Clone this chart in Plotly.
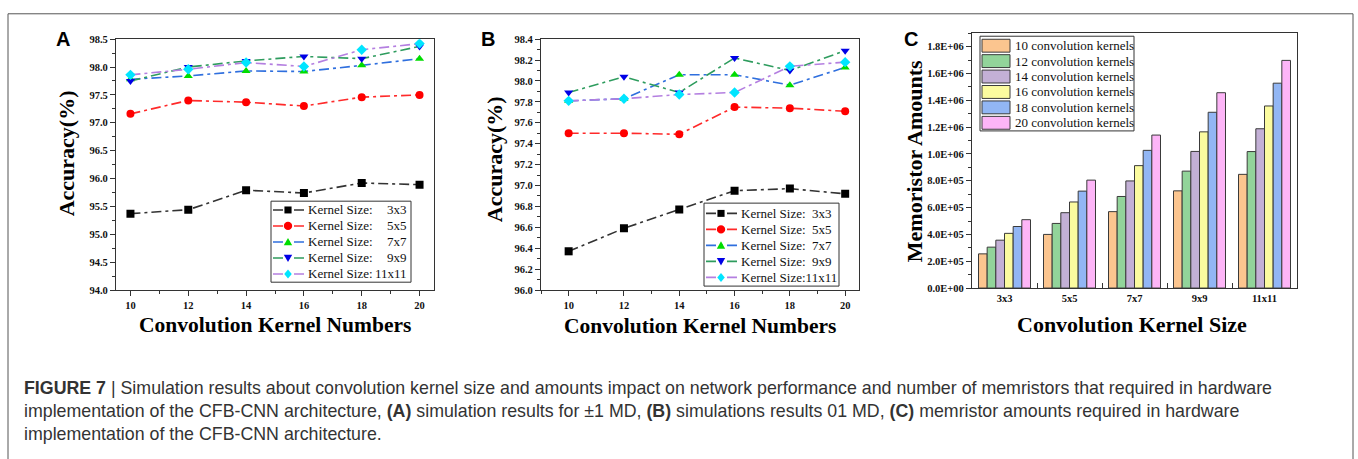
import plotly.graph_objects as go

W, H = 1358, 459

# ---------------- data ----------------
kernel_numbers = [10, 12, 14, 16, 18, 20]
size_labels = ["3x3", "5x5", "7x7", "9x9", "11x11"]

acc_a_3x3 = [95.37, 95.44, 95.79, 95.74, 95.92, 95.89]
acc_a_5x5 = [97.16, 97.40, 97.37, 97.30, 97.46, 97.50]
acc_a_7x7 = [97.78, 97.84, 97.93, 97.92, 98.03, 98.15]
acc_a_9x9 = [97.75, 98.00, 98.11, 98.19, 98.15, 98.37]
acc_a_11x11 = [97.86, 97.96, 98.08, 98.01, 98.31, 98.42]

acc_b_3x3 = [96.37, 96.59, 96.77, 96.95, 96.97, 96.92]
acc_b_5x5 = [97.50, 97.50, 97.49, 97.75, 97.74, 97.71]
acc_b_7x7 = [97.81, 97.83, 98.06, 98.06, 97.96, 98.13]
acc_b_9x9 = [97.89, 98.04, 97.89, 98.22, 98.10, 98.29]
acc_b_11x11 = [97.81, 97.83, 97.87, 97.89, 98.14, 98.18]

kernel_sizes = ["3x3", "5x5", "7x7", "9x9", "11x11"]
bar_names = ["10 convolution kernels", "12 convolution kernels", "14 convolution kernels",
             "16 convolution kernels", "18 convolution kernels", "20 convolution kernels"]
mem_10 = [255000, 400000, 570000, 725000, 848000]
mem_12 = [305000, 482000, 683000, 872000, 1018000]
mem_14 = [357000, 562000, 799000, 1019000, 1188000]
mem_16 = [408000, 642000, 913000, 1165000, 1358000]
mem_18 = [459000, 723000, 1027000, 1311000, 1528000]
mem_20 = [510000, 805000, 1141000, 1457000, 1698000]

acc_a_ticks = [94.0, 94.5, 95.0, 95.5, 96.0, 96.5, 97.0, 97.5, 98.0, 98.5]
acc_b_ticks = [96.0, 96.2, 96.4, 96.6, 96.8, 97.0, 97.2, 97.4, 97.6, 97.8, 98.0, 98.2, 98.4]
mem_ticks = [0, 200000, 400000, 600000, 800000, 1000000, 1200000, 1400000, 1600000, 1800000]

# ---------------- styles ----------------
SERIF = "Liberation Serif, Times New Roman, serif"
SANS = "Liberation Sans, Arial, sans-serif"
line_colors = ["#333333", "#ff2a2a", "#2f6fde", "#2e9c5e", "#b47fe0"]
marker_colors = ["#000000", "#ff0000", "#00dd00", "#0000e6", "#00e5ff"]
marker_symbols = ["square", "circle", "triangle-up", "triangle-down", "diamond"]
bar_colors = ["#fbc58f", "#92d49a", "#c3b0d6", "#fbfb9f", "#92b6f4", "#fdb5f7"]
DASH = "10px,4px,3px,4px"


def px_x(p):
    return p / W


def px_y(p):
    return 1 - p / H


fig = go.Figure()

acc_a = [acc_a_3x3, acc_a_5x5, acc_a_7x7, acc_a_9x9, acc_a_11x11]
acc_b = [acc_b_3x3, acc_b_5x5, acc_b_7x7, acc_b_9x9, acc_b_11x11]

for i, ys in enumerate(acc_a):
    fig.add_trace(go.Scatter(
        x=kernel_numbers, y=ys, name="Kernel Size: " + size_labels[i], mode="lines+markers",
        line=dict(color=line_colors[i], width=1.6, dash=DASH),
        marker=dict(color=marker_colors[i], symbol=marker_symbols[i], size=8),
        xaxis="x", yaxis="y", showlegend=False))

for i, ys in enumerate(acc_b):
    fig.add_trace(go.Scatter(
        x=kernel_numbers, y=ys, name="Kernel Size: " + size_labels[i], mode="lines+markers",
        line=dict(color=line_colors[i], width=1.6, dash=DASH),
        marker=dict(color=marker_colors[i], symbol=marker_symbols[i], size=8),
        xaxis="x2", yaxis="y2", showlegend=False))

mem = [mem_10, mem_12, mem_14, mem_16, mem_18, mem_20]
for i, ys in enumerate(mem):
    fig.add_trace(go.Bar(
        x=kernel_sizes, y=ys, name=bar_names[i],
        marker=dict(color=bar_colors[i], line=dict(color="#3a3a3a", width=1)),
        xaxis="x3", yaxis="y3", showlegend=False))

tickfont = dict(family=SERIF, size=10.5, color="#111", weight="bold")
axcommon = dict(showline=True, mirror=True, linecolor="#333", linewidth=1.2,
                ticklen=5, tickwidth=1, tickcolor="#333",
                showgrid=False, zeroline=False, tickfont=tickfont)
minor_style = dict(ticklen=3, tickcolor="#333", ticks="outside")

y_dom_ab = [px_y(292), px_y(35)]

fig.update_layout(
    width=W, height=H, autosize=False,
    margin=dict(l=0, r=0, t=0, b=0),
    font=dict(family=SERIF, color="#111"),
    paper_bgcolor="white", plot_bgcolor="white",
    barmode="group", bargap=0.2, bargroupgap=0,
    showlegend=False,
    xaxis=dict(domain=[px_x(116), px_x(434)], range=[9.5, 20.5], anchor="y", ticks="outside",
               tickvals=kernel_numbers, minor=dict(dtick=1, **minor_style), **axcommon),
    yaxis=dict(domain=y_dom_ab, range=[94.0, 98.5], anchor="x", ticks="outside",
               tickvals=acc_a_ticks, ticktext=[f"{v:.1f}" for v in acc_a_ticks],
               minor=dict(dtick=0.25, **minor_style), **axcommon),
    xaxis2=dict(domain=[px_x(541), px_x(859)], range=[9.0, 20.5], anchor="y2", ticks="outside",
                tickvals=kernel_numbers, minor=dict(dtick=1, **minor_style), **axcommon),
    yaxis2=dict(domain=y_dom_ab, range=[96.0, 98.4], anchor="x2", ticks="outside",
                tickvals=acc_b_ticks, ticktext=[f"{v:.1f}" for v in acc_b_ticks],
                minor=dict(dtick=0.1, **minor_style), **axcommon),
    xaxis3=dict(domain=[px_x(972), px_x(1297)], range=[-0.5, 4.5], anchor="y3",
                tickson="boundaries", ticks="inside", **axcommon),
    yaxis3=dict(domain=[px_y(290), px_y(29)], range=[0, 1900000], anchor="x3", ticks="outside",
                tickvals=mem_ticks, ticktext=[f"{v:.1E}" for v in mem_ticks],
                minor=dict(dtick=100000, **minor_style), **axcommon),
)

ann = []
shapes = []


def add_text(x, y, text, font, angle=0, xanchor="center"):
    ann.append(dict(x=px_x(x), y=px_y(y), xref="paper", yref="paper", text=text,
                    showarrow=False, font=font, textangle=angle,
                    xanchor=xanchor, yanchor="middle"))


def rect_px(x0, y0, x1, y1, **kw):
    shapes.append(dict(type="rect", xref="paper", yref="paper",
                       x0=px_x(x0), x1=px_x(x1), y0=px_y(y1), y1=px_y(y0), layer="above", **kw))


def marker_key(cx, cy, symbol, color, s=4.2):
    if symbol == "square":
        rect_px(cx - s * 0.85, cy - s * 0.85, cx + s * 0.85, cy + s * 0.85,
                fillcolor=color, line=dict(width=0))
        return
    if symbol == "circle":
        shapes.append(dict(type="circle", xref="paper", yref="paper",
                           x0=px_x(cx - s), x1=px_x(cx + s), y0=px_y(cy + s), y1=px_y(cy - s),
                           fillcolor=color, line=dict(width=0), layer="above"))
        return
    if symbol == "triangle-up":
        pts = [(cx, cy - s), (cx + s, cy + s * 0.8), (cx - s, cy + s * 0.8)]
    elif symbol == "triangle-down":
        pts = [(cx, cy + s), (cx + s, cy - s * 0.8), (cx - s, cy - s * 0.8)]
    else:
        pts = [(cx, cy - s * 1.1), (cx + s * 0.9, cy), (cx, cy + s * 1.1), (cx - s * 0.9, cy)]
    path = "M " + " L ".join(f"{px_x(px):.6f},{px_y(py):.6f}" for px, py in pts) + " Z"
    shapes.append(dict(type="path", xref="paper", yref="paper", path=path,
                       fillcolor=color, line=dict(width=0), layer="above"))


leg_font = dict(family=SERIF, size=13, color="#111")


def line_legend(box, line_x, mark_x, text_x, y0, pitch, texts, size_right=None):
    rect_px(*box, fillcolor="white", line=dict(color="#333", width=1))
    for i in range(len(texts)):
        cy = y0 + pitch * i
        shapes.append(dict(type="line", xref="paper", yref="paper",
                           x0=px_x(line_x[0]), x1=px_x(line_x[1]), y0=px_y(cy), y1=px_y(cy),
                           line=dict(color=line_colors[i], width=1.6, dash=DASH), layer="above"))
        marker_key(mark_x, cy, marker_symbols[i], marker_colors[i])
        add_text(text_x, cy, texts[i], leg_font, xanchor="left")
        if size_right is not None:
            add_text(size_right, cy, size_labels[i], leg_font, xanchor="right")


# legend A: "Kernel Size:" left, size label right-aligned
line_legend((271, 201, 411, 284), (273, 304), 288, 306, 210, 16.4,
            ["Kernel Size:"] * 5, size_right=409)
# legend B
line_legend((704, 203, 839, 288), (706, 737), 721, 739, 213.5, 16.4,
            ["Kernel Size:\u00a0 " + s if len(s) == 3 else "Kernel Size:" + s for s in size_labels])

# legend C
rect_px(980, 32, 1134, 129, fillcolor="white", line=dict(color="#333", width=1))
for i, nm in enumerate(bar_names):
    cy = 41.7 + 15.8 * i
    rect_px(982, cy - 6.6, 1010, cy + 6.6, fillcolor=bar_colors[i], line=dict(color="#3a3a3a", width=1))
    add_text(1013, cy, nm, dict(family=SERIF, size=13, color="#111"), xanchor="left")

title_font = dict(family=SERIF, size=21.5, color="#000", weight="bold")
ytitle_font = dict(family=SERIF, size=22, color="#000", weight="bold")
letter_font = dict(family=SANS, size=20, color="#000", weight="bold")

add_text(63, 35, "A", letter_font)
add_text(488, 35, "B", letter_font)
add_text(911, 35, "C", letter_font)

add_text(275, 328, "Convolution Kernel Numbers", title_font)
add_text(700, 329, "Convolution Kernel Numbers", title_font)
add_text(1132, 327, "Convolution Kernel Size", dict(title_font, size=22))

add_text(66, 152, "Accuracy(%)", ytitle_font, angle=-90)
add_text(494, 158, "Accuracy(%)", ytitle_font, angle=-90)
add_text(914, 160, "Memoristor Amounts", ytitle_font, angle=-90)

cap_font = dict(family=SANS, size=17.8, color="#333")
cap_lines = [
    "<b>FIGURE 7</b> | Simulation results about convolution kernel size and amounts impact on network performance and number of memristors that required in hardware",
    "implementation of the CFB-CNN architecture, <b>(A)</b> simulation results for \u00b11 MD, <b>(B)</b> simulations results 01 MD, <b>(C)</b> memristor amounts required in hardware",
    "implementation of the CFB-CNN architecture.",
]
for k, t in enumerate(cap_lines):
    add_text(22, 392 + 24 * k, t, cap_font, xanchor="left")

# outer frame
shapes.append(dict(type="rect", xref="paper", yref="paper",
                   x0=px_x(8), x1=px_x(1353), y0=-0.05, y1=px_y(9),
                   line=dict(color="#555", width=1), fillcolor="rgba(0,0,0,0)", layer="below"))

fig.update_layout(annotations=ann, shapes=shapes)

fig.write_html("out.html")
